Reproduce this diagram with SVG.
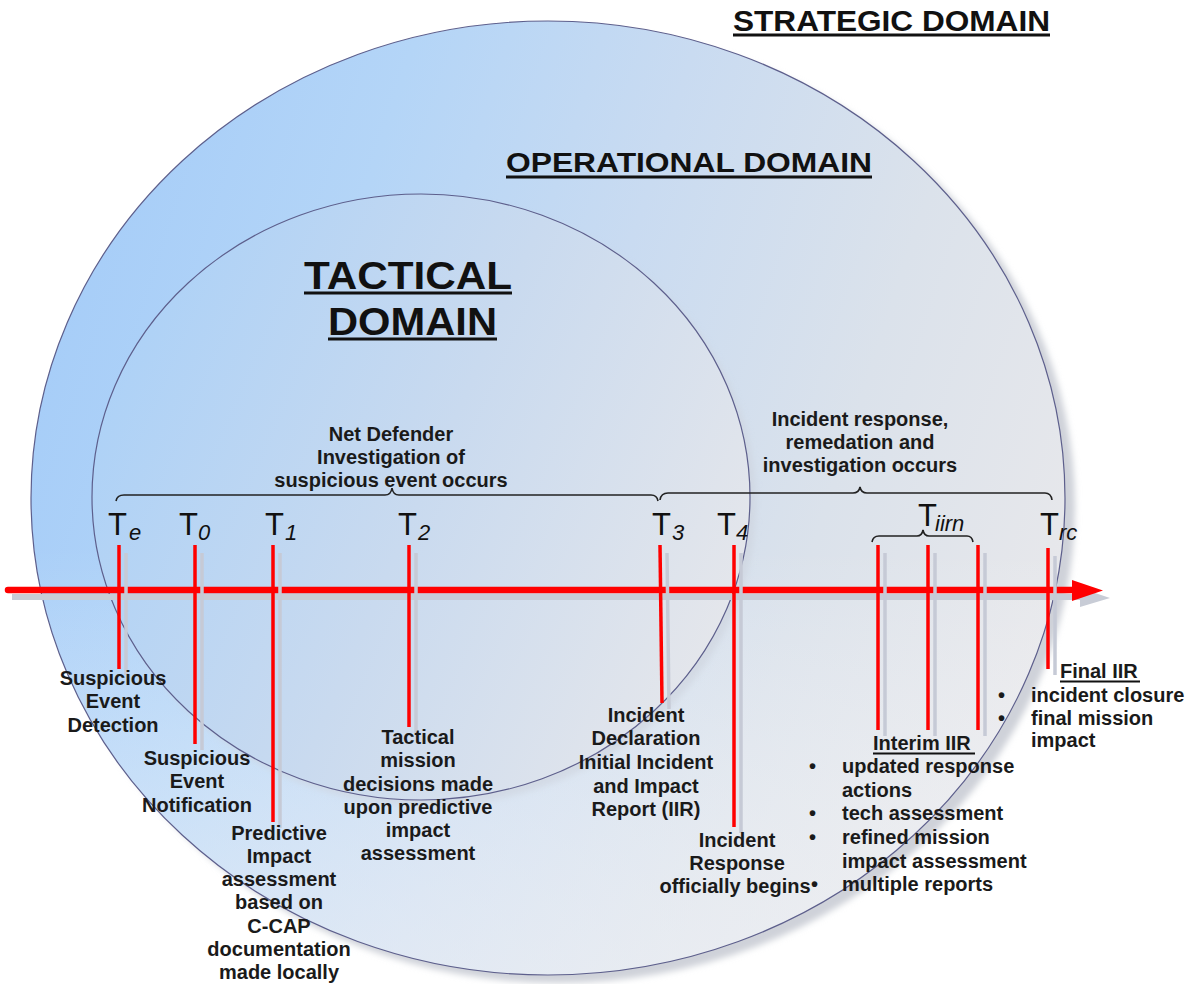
<svg xmlns="http://www.w3.org/2000/svg" width="1200" height="984" viewBox="0 0 1200 984">
<style>
.body{font-family:"Liberation Sans",Arial,sans-serif;font-weight:bold;font-size:20px;fill:#1a1a1a}
.mid{text-anchor:middle}
.title{font-family:"Liberation Sans",Arial,sans-serif;font-weight:bold;fill:#111}
.tl{font-family:"Liberation Sans",Arial,sans-serif;font-size:31px;fill:#111}
.sub{font-family:"Liberation Sans",Arial,sans-serif;font-size:22px;font-style:italic;fill:#111}
.tick{stroke:#ff0000;stroke-width:3.5;fill:none}
.tshadow{stroke:#c6cad6;stroke-width:3.5;fill:none}
.brace{stroke:#222;stroke-width:1.6;fill:none}
.uline{stroke:#111;fill:none}
</style>
<defs>
<linearGradient id="gOuter" x1="0" y1="0.35" x2="1" y2="0.65">
<stop offset="0" stop-color="#a6cdf8"/>
<stop offset="0.25" stop-color="#b4d5f7"/>
<stop offset="0.5" stop-color="#c9dbf1"/>
<stop offset="0.75" stop-color="#dbe2eb"/>
<stop offset="1" stop-color="#e8e8eb"/>
</linearGradient>
<linearGradient id="gFade" x1="0" y1="0" x2="0" y2="1">
<stop offset="0" stop-color="#ffffff" stop-opacity="0"/>
<stop offset="0.55" stop-color="#ffffff" stop-opacity="0"/>
<stop offset="1" stop-color="#f4f4f6" stop-opacity="0.55"/>
</linearGradient>
<linearGradient id="gTact" x1="0" y1="0.3" x2="1" y2="0.7">
<stop offset="0" stop-color="#acd1f7"/>
<stop offset="0.5" stop-color="#c9daef"/>
<stop offset="1" stop-color="#e6e7eb"/>
</linearGradient>
<filter id="blur" x="-10%" y="-10%" width="120%" height="120%">
<feGaussianBlur stdDeviation="3"/>
</filter>
</defs>
<rect width="1200" height="984" fill="#ffffff"/>

<g id="strategic-domain">
<text class="title" x="733" y="31" font-size="29" textLength="317" lengthAdjust="spacingAndGlyphs">STRATEGIC DOMAIN</text>
<line class="uline" x1="733" y1="35" x2="1050" y2="35" stroke-width="3"/>
</g>

<g id="operational-domain">
<ellipse cx="558" cy="506" rx="517" ry="477" fill="#cfd2d9" filter="url(#blur)"/>
<ellipse cx="548" cy="498" rx="517" ry="477" fill="url(#gOuter)"/>
<ellipse cx="548" cy="498" rx="517" ry="477" fill="url(#gFade)" stroke="#5d5f8c" stroke-width="1.2"/>
<text class="title" x="506" y="172" font-size="27" textLength="366" lengthAdjust="spacingAndGlyphs">OPERATIONAL DOMAIN</text>
<line class="uline" x1="506" y1="177" x2="872" y2="177" stroke-width="3"/>
</g>

<g id="tactical-domain">
<ellipse cx="427" cy="503" rx="329" ry="303" fill="#cdd3dd" opacity="0.6" filter="url(#blur)"/>
<ellipse cx="421" cy="497" rx="329" ry="303" fill="url(#gTact)" stroke="#5d5f8c" stroke-width="1.2"/>
<text class="title" x="304" y="289" font-size="38" textLength="208" lengthAdjust="spacingAndGlyphs">TACTICAL</text>
<line class="uline" x1="304" y1="293" x2="512" y2="293" stroke-width="3"/>
<text class="title" x="328" y="335" font-size="38" textLength="169" lengthAdjust="spacingAndGlyphs">DOMAIN</text>
<line class="uline" x1="328" y1="339" x2="497" y2="339" stroke-width="3"/>
</g>

<g id="connectors">
<line x1="12" y1="597" x2="1082" y2="597" stroke="#c8ccd6" stroke-width="6"/>
<polygon points="1080,588 1110,598 1080,607" fill="#c8ccd6"/>
<line x1="8" y1="590" x2="1074" y2="590" stroke="#ff0000" stroke-width="6.5" stroke-linecap="round"/>
<polygon points="1072,580 1103,590.5 1072,601" fill="#ff0000"/>
<path class="brace" d="M116,501 Q117,495 124,495 L385,495 Q391,495 392,488 Q393,495 399,495 L651,495 Q657,495 658,501"/>
<path class="brace" d="M660,500 Q661,493 668,493 L853,493 Q859,493 860,487 Q861,493 867,493 L1045,493 Q1051,493 1052,500"/>
<path class="brace" d="M872,542 Q873,536 879,536 L917,536 Q922,536 923,530 Q924,536 929,536 L967,536 Q972,536 973,542"/>
</g>

<g id="range-investigation">
<text class="body mid" x="391" y="441">Net Defender</text>
<text class="body mid" x="391" y="464">Investigation of</text>
<text class="body mid" x="391" y="487">suspicious event occurs</text>
</g>
<g id="range-response">
<text class="body mid" x="860" y="426">Incident response,</text>
<text class="body mid" x="860" y="449">remedation and</text>
<text class="body mid" x="860" y="472">investigation occurs</text>
</g>

<g id="Te">
<line class="tshadow" x1="126" y1="553" x2="126" y2="675"/>
<line class="tick" x1="119" y1="545" x2="119" y2="669"/>
<text class="tl" x="108" y="535">T</text><text class="sub" x="129" y="540">e</text>
<text class="body mid" x="113" y="685">Suspicious</text>
<text class="body mid" x="113" y="708">Event</text>
<text class="body mid" x="113" y="732">Detection</text>
</g>

<g id="T0">
<line class="tshadow" x1="202" y1="553" x2="202" y2="750"/>
<line class="tick" x1="195" y1="545" x2="195" y2="744"/>
<text class="tl" x="179" y="535">T</text><text class="sub" x="198" y="540" font-style="normal">0</text>
<text class="body mid" x="197" y="765">Suspicious</text>
<text class="body mid" x="197" y="788">Event</text>
<text class="body mid" x="197" y="812">Notification</text>
</g>

<g id="T1">
<line class="tshadow" x1="280" y1="553" x2="280" y2="828"/>
<line class="tick" x1="273" y1="545" x2="273" y2="822"/>
<text class="tl" x="265" y="535">T</text><text class="sub" x="285" y="540">1</text>
<text class="body mid" x="279" y="840">Predictive</text>
<text class="body mid" x="279" y="863">Impact</text>
<text class="body mid" x="279" y="886">assessment</text>
<text class="body mid" x="279" y="909">based on</text>
<text class="body mid" x="279" y="933">C-CAP</text>
<text class="body mid" x="279" y="956">documentation</text>
<text class="body mid" x="279" y="979">made locally</text>
</g>

<g id="T2">
<line class="tshadow" x1="416" y1="553" x2="416" y2="733"/>
<line class="tick" x1="409" y1="545" x2="409" y2="727"/>
<text class="tl" x="398" y="535">T</text><text class="sub" x="418" y="540">2</text>
<text class="body mid" x="418" y="744">Tactical</text>
<text class="body mid" x="418" y="767">mission</text>
<text class="body mid" x="418" y="791">decisions made</text>
<text class="body mid" x="418" y="814">upon predictive</text>
<text class="body mid" x="418" y="837">impact</text>
<text class="body mid" x="418" y="860">assessment</text>
</g>

<g id="T3">
<line class="tshadow" x1="667" y1="553" x2="669" y2="709"/>
<line class="tick" x1="660" y1="545" x2="662" y2="703"/>
<text class="tl" x="652" y="535">T</text><text class="sub" x="672" y="540">3</text>
<text class="body mid" x="646" y="722">Incident</text>
<text class="body mid" x="646" y="745">Declaration</text>
<text class="body mid" x="646" y="769">Initial Incident</text>
<text class="body mid" x="646" y="793">and Impact</text>
<text class="body mid" x="646" y="816">Report (IIR)</text>
</g>

<g id="T4">
<line class="tshadow" x1="741" y1="553" x2="741" y2="833"/>
<line class="tick" x1="734" y1="545" x2="734" y2="827"/>
<text class="tl" x="717" y="535">T</text><text class="sub" x="736" y="540">4</text>
<text class="body mid" x="737" y="847">Incident</text>
<text class="body mid" x="737" y="870">Response</text>
<text class="body mid" x="735" y="893">officially begins</text>
</g>

<g id="Tiirn">
<line class="tshadow" x1="885" y1="553" x2="885" y2="736"/>
<line class="tshadow" x1="935" y1="553" x2="935" y2="736"/>
<line class="tshadow" x1="985" y1="553" x2="985" y2="736"/>
<line class="tick" x1="878" y1="545" x2="878" y2="730"/>
<line class="tick" x1="928" y1="545" x2="928" y2="730"/>
<line class="tick" x1="978" y1="545" x2="978" y2="730"/>
<text class="tl" x="918" y="526" font-size="28">T</text><text class="sub" x="935" y="531" font-size="21">iirn</text>
<text class="body" x="873" y="750">Interim IIR</text>
<line class="uline" x1="873" y1="753.5" x2="975" y2="753.5" stroke-width="2"/>
<text class="body" x="809" y="773">•</text><text class="body" x="842" y="773">updated response</text>
<text class="body" x="842" y="797">actions</text>
<text class="body" x="809" y="820">•</text><text class="body" x="842" y="820">tech assessment</text>
<text class="body" x="809" y="844">•</text><text class="body" x="842" y="844">refined mission</text>
<text class="body" x="842" y="868">impact assessment</text>
<text class="body" x="811" y="891">•</text><text class="body" x="842" y="891">multiple reports</text>
</g>

<g id="Trc">
<line class="tshadow" x1="1055" y1="556" x2="1055" y2="675"/>
<line class="tick" x1="1048" y1="548" x2="1048" y2="669"/>
<text class="tl" x="1040" y="535">T</text><text class="sub" x="1059" y="540">rc</text>
<text class="body" x="1060" y="678">Final IIR</text>
<line class="uline" x1="1060" y1="681.5" x2="1140" y2="681.5" stroke-width="2"/>
<text class="body" x="998" y="702">•</text><text class="body" x="1031" y="702">incident closure</text>
<text class="body" x="998" y="725">•</text><text class="body" x="1031" y="725">final mission</text>
<text class="body" x="1031" y="747">impact</text>
</g>
</svg>
